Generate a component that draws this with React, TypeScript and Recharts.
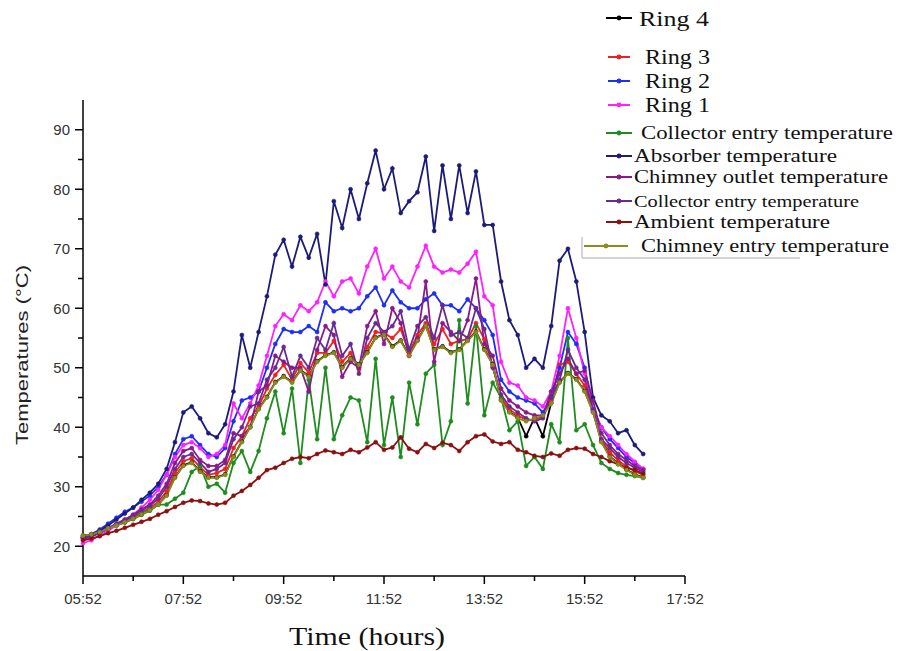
import React from 'react';
import { LineChart, Line, XAxis, YAxis } from 'recharts';

// time axis: minutes after midnight, one reading every 10 minutes from 05:52
const START = 352;
const STEP = 10;
const X_TICKS = [352, 412, 472, 532, 592, 652, 712, 772, 832, 892, 952, 1012, 1072];
const Y_TICKS = [20, 25, 30, 35, 40, 45, 50, 55, 60, 65, 70, 75, 80, 85, 90];

const ring4 = [
  21.8, 22.0, 22.4, 23.0, 23.5, 24.0, 24.6, 25.3, 26.0, 27.0,
  28.6, 31.6, 33.6, 34.1, 32.6, 31.6, 31.6, 32.1, 35.1, 37.6,
  40.1, 43.1, 45.1, 47.6, 48.6, 47.6, 49.6, 48.6, 51.1, 52.1,
  52.6, 50.1, 51.6, 50.6, 52.6, 55.1, 55.6, 53.6, 54.6, 52.1,
  54.6, 57.1, 53.1, 53.6, 52.6, 53.1, 54.6, 56.1, 53.1, 50.6,
  44.6, 42.6, 41.6, 38.5, 41.6, 38.5, 44.1, 47.6, 49.1, 48.1,
  46.1, 42.6, 37.6, 35.1, 33.9, 32.9, 32.1, 31.6,
];
const ring3 = [
  21.4, 21.8, 22.3, 22.9, 23.6, 24.2, 24.9, 25.7, 26.4, 27.5,
  29.2, 32.3, 34.3, 34.8, 33.3, 32.0, 32.3, 33.0, 36.5, 38.5,
  41.5, 43.5, 46.5, 48.8, 50.5, 48.0, 50.8, 49.2, 52.5, 52.5,
  54.5, 51.0, 52.5, 49.8, 53.5, 56.0, 55.8, 55.0, 56.5, 52.5,
  55.5, 57.5, 54.0, 56.5, 54.0, 54.5, 54.8, 57.5, 54.8, 50.2,
  45.0, 43.0, 42.0, 41.2, 41.2, 41.8, 44.5, 50.5, 51.0, 49.0,
  47.0, 42.8, 37.8, 35.8, 34.4, 33.4, 32.6, 32.0,
];
const ring2 = [
  21.5, 22.0, 22.8, 23.8, 24.8, 25.8, 26.5, 27.5, 28.5, 30.0,
  32.0, 35.5, 38.0, 38.5, 37.0, 35.5, 35.0, 36.5, 41.0, 44.5,
  45.0, 46.0, 50.0, 54.0, 56.5, 56.0, 56.0, 57.0, 56.0, 61.0,
  59.5, 60.0, 59.5, 60.0, 62.0, 63.5, 60.5, 63.0, 61.0, 60.0,
  60.0, 61.5, 62.5, 60.5, 60.5, 59.5, 61.5, 60.0, 58.0, 55.5,
  48.0, 46.0, 45.0, 44.5, 44.0, 42.5, 45.0, 50.0, 56.0, 54.0,
  50.0, 43.0, 40.0, 38.0, 36.5, 35.0, 34.0, 33.0,
];
const ring1 = [
  20.5, 21.0, 21.8, 22.6, 23.5, 24.4, 25.3, 26.5, 27.8, 29.5,
  32.0, 35.0, 37.0, 37.5, 36.5, 35.0, 35.5, 37.0, 44.0, 41.5,
  44.0, 47.0, 52.0, 57.0, 59.0, 58.0, 60.5, 59.5, 61.0, 64.5,
  62.0, 64.5, 65.0, 62.5, 67.0, 70.0, 65.0, 67.0, 64.5, 63.5,
  67.0, 70.5, 67.0, 66.0, 66.5, 66.0, 67.5, 69.5, 62.0, 60.5,
  51.0, 47.5, 47.0, 45.0, 44.5, 43.5, 46.0, 52.0, 60.0, 55.0,
  49.0, 43.0, 40.0, 38.5, 37.0, 35.5, 34.2, 33.0,
];
const collectorEntry = [
  21.5, 21.8, 22.3, 23.0, 23.6, 24.2, 24.8, 25.5, 26.2, 27.0,
  27.0, 28.0, 29.0, 32.5, 33.5, 30.0, 30.5, 29.0, 34.0, 36.0,
  32.5, 36.0, 41.5, 46.0, 39.0, 46.5, 34.0, 48.0, 38.0, 50.0,
  38.0, 42.0, 45.0, 44.5, 37.5, 51.5, 37.0, 45.0, 35.0, 47.5,
  40.5, 49.0, 50.5, 37.0, 41.0, 58.0, 44.0, 57.0, 42.0, 47.5,
  45.0, 39.5, 41.0, 33.5, 35.0, 33.0, 40.5, 37.5, 55.0, 39.5,
  40.5, 37.0, 34.0, 33.0, 32.3, 32.0, 31.8, 31.5,
];
const absorber = [
  21.5, 22.0, 22.6, 23.5, 24.5, 25.5, 26.5, 27.8, 29.0, 30.5,
  33.0, 37.5, 42.5, 43.5, 41.5, 39.0, 38.3, 40.5, 46.0, 55.5,
  50.0, 56.0, 62.0, 69.0, 71.5, 67.0, 72.0, 68.5, 72.5, 64.0,
  78.0, 73.5, 80.0, 75.0, 81.0, 86.5, 80.0, 83.5, 76.0, 78.0,
  79.5, 85.5, 73.0, 84.0, 75.0, 84.0, 76.0, 83.0, 74.0, 74.0,
  64.5, 58.0, 55.5, 50.0, 51.5, 50.0, 57.0, 68.0, 70.0, 64.5,
  56.0, 45.0, 42.0, 41.0, 39.0, 39.5, 37.0, 35.5,
];
const chimneyOutlet = [
  21.2, 21.6, 22.2, 23.0, 23.8, 24.5, 25.3, 26.2, 27.0, 28.5,
  30.5, 34.0, 36.0, 36.5, 34.5, 33.5, 33.5, 34.5, 39.0, 38.5,
  40.0, 46.0, 47.0, 52.0, 51.0, 50.0, 50.0, 46.0, 53.0, 57.0,
  55.5, 48.5, 51.0, 50.0, 57.0, 59.5, 54.0, 60.0, 57.5, 52.0,
  55.0, 64.5, 51.0, 57.5, 56.0, 54.5, 58.0, 65.0, 54.0, 52.0,
  46.5, 44.5, 43.5, 42.5, 42.0, 42.0, 46.0, 49.0, 51.5, 49.0,
  49.5, 44.5, 39.0, 37.0, 35.5, 34.5, 33.5, 32.8,
];
const collectorEntry2 = [
  21.4, 21.8, 22.3, 23.0, 23.7, 24.4, 25.1, 26.0, 26.8, 28.0,
  30.0, 33.0, 35.0, 35.5, 34.0, 32.5, 33.0, 34.0, 38.0, 40.0,
  43.5, 44.0, 48.0, 50.0, 53.5, 48.5, 52.0, 50.0, 55.0, 53.0,
  57.5, 52.0, 54.0, 49.0, 55.0, 57.5, 56.0, 57.0, 59.5, 53.0,
  57.0, 58.5, 55.0, 60.5, 55.5, 56.0, 55.0, 60.0, 56.5, 50.0,
  45.5, 43.5, 42.5, 41.5, 41.0, 41.5, 45.0, 48.0, 53.0, 50.0,
  48.0, 43.0, 38.0, 36.5, 35.0, 34.0, 33.2, 32.5,
];
const ambient = [
  21.0, 21.3, 21.7, 22.2, 22.6, 23.1, 23.6, 24.1, 24.6, 25.3,
  25.9, 26.6, 27.3, 27.7, 27.6, 27.2, 27.0, 27.3, 28.5, 29.3,
  30.3, 31.5, 32.8, 33.2, 34.0, 34.7, 35.0, 34.8, 35.5, 36.1,
  35.8, 35.5, 36.2, 35.8, 36.6, 37.5, 36.2, 36.6, 38.3, 36.4,
  35.8, 37.2, 36.5, 37.4, 37.0, 36.0, 37.5, 38.5, 38.8, 37.6,
  37.2, 37.5, 36.2, 35.8, 35.2, 35.0, 35.6, 35.2, 36.2, 36.5,
  36.4, 35.5, 35.0, 34.3, 33.8, 33.2, 32.8, 32.2,
];
const chimneyEntry = [
  21.8, 22.0, 22.4, 23.0, 23.5, 24.0, 24.6, 25.3, 26.0, 27.0,
  28.5, 31.5, 33.5, 34.0, 32.5, 31.5, 31.5, 32.0, 35.0, 37.5,
  40.0, 43.0, 45.0, 47.5, 48.5, 47.5, 49.5, 48.5, 51.0, 52.0,
  52.5, 50.0, 51.5, 50.5, 52.5, 55.0, 55.5, 53.5, 54.5, 52.0,
  54.5, 57.0, 53.0, 53.5, 52.5, 53.0, 54.5, 56.0, 53.0, 50.5,
  44.5, 42.5, 41.5, 41.0, 41.5, 42.0, 44.0, 47.5, 49.0, 48.0,
  46.0, 42.5, 37.5, 35.0, 33.8, 32.8, 32.0, 31.5,
];

const series = [
  { key: 'ring4', name: 'Ring 4', color: '#000000', values: ring4 },
  { key: 'ring3', name: 'Ring 3', color: '#ee2020', values: ring3 },
  { key: 'ring2', name: 'Ring 2', color: '#1f2ff0', values: ring2 },
  { key: 'ring1', name: 'Ring 1', color: '#ff20ff', values: ring1 },
  { key: 'collector', name: 'Collector entry temperature', color: '#1f8c1f', values: collectorEntry },
  { key: 'absorber', name: 'Absorber temperature', color: '#1c1c78', values: absorber },
  { key: 'chimOut', name: 'Chimney outlet temperature', color: '#8a1a8a', values: chimneyOutlet },
  { key: 'collector2', name: 'Collector entry temperature', color: '#6a2a90', values: collectorEntry2 },
  { key: 'ambient', name: 'Ambient temperature', color: '#8b1010', values: ambient },
  { key: 'chimIn', name: 'Chimney entry temperature', color: '#8c8c1c', values: chimneyEntry },
];

const data = ring4.map((_, i) => {
  const row: any = { t: START + i * STEP };
  series.forEach(s => { row[s.key] = s.values[i]; });
  return row;
});

const sans = '"Liberation Sans", Arial, sans-serif';
const serif = '"Liberation Serif", "Times New Roman", serif';

const fmtTime = (m: number) => {
  const h = Math.floor(m / 60);
  const mm = m % 60;
  return `${String(h).padStart(2, '0')}:${String(mm).padStart(2, '0')}`;
};

const XTick = (props: any) => {
  const { x, y, payload } = props;
  const major = (payload.value - START) % 120 === 0;
  return (
    <g>
      <line x1={x} y1={y} x2={x} y2={y + (major ? 8 : 5)} stroke="#000" strokeWidth={1.5} />
      {major && (
        <text x={x} y={y + 28} textAnchor="middle" fontSize={15} fontFamily={sans} fill="#333">
          {fmtTime(payload.value)}
        </text>
      )}
    </g>
  );
};

const YTick = (props: any) => {
  const { x, y, payload } = props;
  const major = payload.value % 10 === 0;
  return (
    <g>
      <line x1={x} y1={y} x2={x - (major ? 8 : 5)} y2={y} stroke="#000" strokeWidth={1.5} />
      {major && (
        <text x={x - 13} y={y} textAnchor="end" dominantBaseline="central" fontSize={15} fontFamily={sans} fill="#333">
          {payload.value}
        </text>
      )}
    </g>
  );
};

// legend rows: text position and width
const legendRows = [
  { y: 18, lx1: 606, lx2: 632, tx: 639, tw: 70, fs: 22 },
  { y: 57, lx1: 608, lx2: 630, tx: 645, tw: 65, fs: 21 },
  { y: 81, lx1: 608, lx2: 630, tx: 645, tw: 65, fs: 21 },
  { y: 105, lx1: 608, lx2: 630, tx: 645, tw: 65, fs: 21 },
  { y: 133, lx1: 606, lx2: 632, tx: 641, tw: 252, fs: 18 },
  { y: 156, lx1: 606, lx2: 632, tx: 634, tw: 203, fs: 18 },
  { y: 177, lx1: 606, lx2: 632, tx: 634, tw: 254, fs: 18 },
  { y: 201, lx1: 606, lx2: 632, tx: 634, tw: 225, fs: 16 },
  { y: 222, lx1: 606, lx2: 632, tx: 634, tw: 196, fs: 18 },
  { y: 246, lx1: 584, lx2: 628, tx: 641, tw: 248, fs: 18 },
];

const LegendBox = () => (
  <svg width={898} height={270} style={{ position: 'absolute', left: 0, top: 0 }}>
    <line x1={582} y1={237} x2={582} y2={258} stroke="#aaa" strokeWidth={1} />
    <line x1={582} y1={258} x2={800} y2={258} stroke="#aaa" strokeWidth={1} />
    {series.map((s, i) => {
      const r = legendRows[i];
      const mx = (r.lx1 + r.lx2) / 2;
      return (
        <g key={s.key}>
          <line x1={r.lx1} y1={r.y} x2={r.lx2} y2={r.y} stroke={s.color} strokeWidth={2} />
          <circle cx={mx} cy={r.y} r={2.4} fill={s.color} />
          <text
            x={r.tx}
            y={r.y}
            dominantBaseline="central"
            fontSize={r.fs}
            style={{ fontFamily: serif }}
            fill="#111"
            textLength={r.tw}
            lengthAdjust="spacingAndGlyphs"
          >
            {s.name}
          </text>
        </g>
      );
    })}
  </svg>
);

const Titles = () => (
  <svg width={898} height={651} style={{ position: 'absolute', left: 0, top: 0, pointerEvents: 'none' }}>
    <text
      x={22}
      y={355}
      transform="rotate(-90 22 355)"
      textAnchor="middle"
      dominantBaseline="central"
      fontSize={17}
      fontFamily={sans}
      fill="#222"
      textLength={180}
      lengthAdjust="spacingAndGlyphs"
    >
      Temperatures (°C)
    </text>
    <text
      x={367}
      y={636}
      textAnchor="middle"
      dominantBaseline="central"
      fontSize={25}
      style={{ fontFamily: serif }}
      fill="#111"
      textLength={156}
      lengthAdjust="spacingAndGlyphs"
    >
      Time (hours)
    </text>
  </svg>
);

export default function App() {
  return (
    <div style={{ position: 'absolute', left: 0, top: 0, width: 898, height: 651, background: '#fff' }}>
      <LineChart width={898} height={651} data={data} margin={{ top: 100, right: 213, bottom: 0, left: 0 }}>
        <XAxis
          type="number"
          dataKey="t"
          domain={[352, 1072]}
          ticks={X_TICKS}
          interval={0}
          height={75}
          tickSize={0}
          tickMargin={0}
          tick={<XTick />}
          axisLine={{ stroke: '#000', strokeWidth: 1.5 }}
          tickLine={false}
        />
        <YAxis
          type="number"
          domain={[15, 95]}
          ticks={Y_TICKS}
          interval={0}
          width={83}
          tickSize={0}
          tickMargin={0}
          tick={<YTick />}
          axisLine={{ stroke: '#000', strokeWidth: 1.5 }}
          tickLine={false}
          allowDataOverflow
        />
        {series.map(s => (
          <Line
            key={s.key}
            type="linear"
            dataKey={s.key}
            name={s.name}
            stroke={s.color}
            strokeWidth={1.8}
            dot={{ r: 2, fill: s.color, stroke: s.color, strokeWidth: 0.6 }}
            isAnimationActive={false}
          />
        ))}
      </LineChart>
      <LegendBox />
      <Titles />
    </div>
  );
}
